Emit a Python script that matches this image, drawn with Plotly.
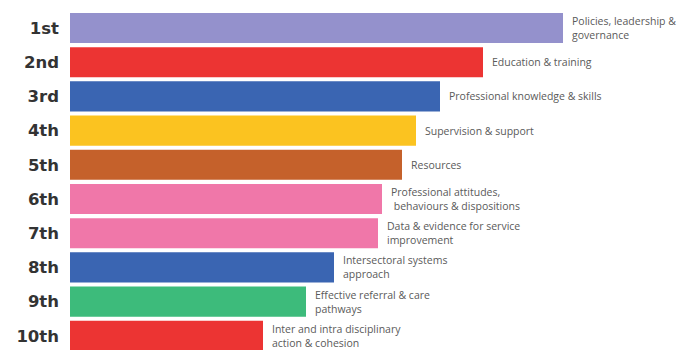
import plotly.graph_objects as go

ranks = ["1st", "2nd", "3rd", "4th", "5th", "6th", "7th", "8th", "9th", "10th"]
scores = [493, 413, 370, 346, 332, 312, 308, 264, 236, 193]
labels = [
    "Policies, leadership &<br>governance",
    "Education & training",
    "Professional knowledge & skills",
    "Supervision & support",
    "Resources",
    "Professional attitudes,<br> behaviours & dispositions",
    "Data & evidence for service<br>improvement",
    "Intersectoral systems<br>approach",
    "Effective referral & care<br>pathways",
    "Inter and intra disciplinary<br>action & cohesion",
]
colors = ["#9491cc", "#ec3433", "#3a65b2", "#fbc320", "#c5612b",
          "#f077a9", "#f077a9", "#3a65b2", "#3dbb7b", "#ec3433"]

fig = go.Figure(go.Bar(
    x=scores, y=ranks, orientation="h",
    marker=dict(color=colors, line=dict(width=0)),
    hoverinfo="skip",
))

for r, s, lab in zip(ranks, scores, labels):
    fig.add_annotation(
        x=s, y=r, text=lab, showarrow=False, xanchor="left", yanchor="middle",
        xshift=7, align="left",
        font=dict(family="Open Sans", size=10.5, color="#5a5a5a"),
    )

fig.update_layout(
    width=699, height=350,
    margin=dict(l=70, r=0, t=0, b=0),
    paper_bgcolor="white", plot_bgcolor="white",
    bargap=0.12, showlegend=False,
    xaxis=dict(range=[0, 629], visible=False, fixedrange=True),
    yaxis=dict(
        type="category", range=[9.415, -0.819],
        showgrid=False, zeroline=False, showline=False, ticks="",
        ticklabelstandoff=10,
        tickfont=dict(family="DejaVu Sans", size=16.5, color="#333333", weight="bold"),
    ),
)

fig.write_html("out.html", config={"displayModeBar": False})
